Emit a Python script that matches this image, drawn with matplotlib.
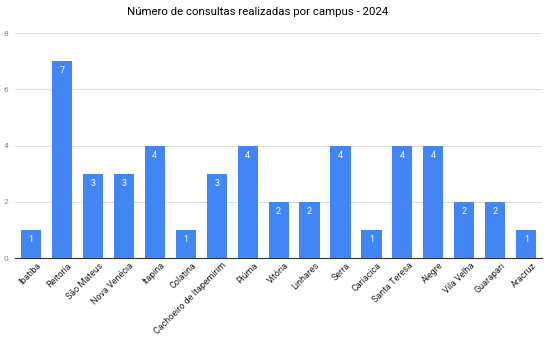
import numpy as np
import matplotlib.pyplot as plt
import matplotlib.transforms as mtransforms

plt.rcParams['font.family'] = ['Roboto', 'DejaVu Sans']

campus = ['Ibatiba', 'Reitoria', 'São Mateus', 'Nova Venécia', 'Itapina', 'Colatina',
          'Cachoeiro de Itapemirim', 'Piúma', 'Vitória', 'Linhares', 'Serra', 'Cariacica',
          'Santa Teresa', 'Alegre', 'Vila Velha', 'Guarapari', 'Aracruz']
consultas = [1, 7, 3, 3, 4, 1, 3, 4, 2, 2, 4, 1, 4, 4, 2, 2, 1]

fig = plt.figure(figsize=(5.5, 3.37), dpi=100)
ax = fig.add_axes([0.028, 0.234, 0.957, 0.668])

x = np.arange(len(campus))
bars = ax.bar(x, consultas, width=0.65, color='#4285f4', zorder=3)
for xi, v in zip(x, consultas):
    ax.text(xi, v - 0.18, str(v), ha='center', va='top', color='white', fontsize=6.5, zorder=4)

ax.set_xlim(-0.5, len(campus) - 0.5)
ax.set_ylim(0, 8)
ax.set_yticks([0, 2, 4, 6, 8])
ax.tick_params(axis='y', length=0, labelsize=6, labelcolor='#888888', pad=5)
ax.tick_params(axis='x', length=0, labelsize=6.5, pad=2, labelcolor='#222222')
ax.set_xticks(x)
ax.set_xticklabels(campus, rotation=45, ha='right', rotation_mode='anchor')
offset = mtransforms.ScaledTranslation(4 / 72, 0, fig.dpi_scale_trans)
for lbl in ax.get_xticklabels():
    lbl.set_transform(lbl.get_transform() + offset)
ax.grid(axis='y', color='#dddddd', linewidth=0.8, zorder=0)
for s in ['top', 'right', 'left']:
    ax.spines[s].set_visible(False)
ax.spines['bottom'].set_color('#333333')
ax.spines['bottom'].set_linewidth(0.8)

fig.text(0.469, 0.965, 'Número de consultas realizadas por campus - 2024',
         fontsize=8.2, ha='center', va='center')

fig.savefig('out.png', dpi=100)
